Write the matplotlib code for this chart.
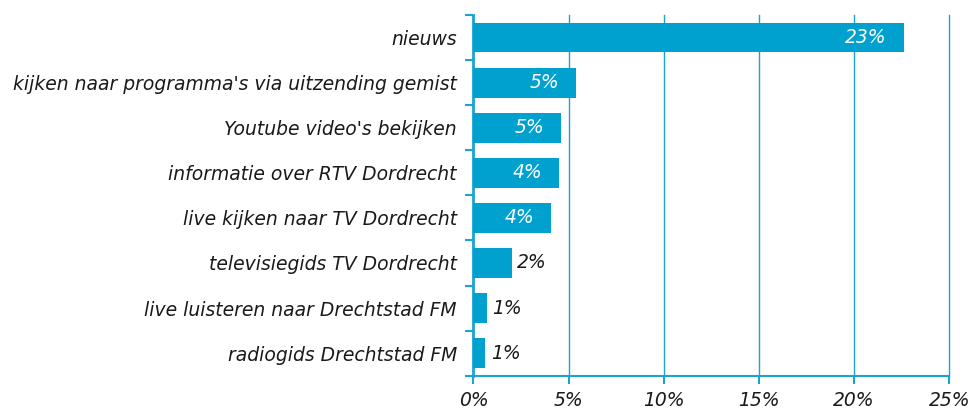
import numpy as np
import matplotlib.pyplot as plt
from matplotlib.ticker import FixedLocator

categories = [
    "nieuws",
    "kijken naar programma's via uitzending gemist",
    "Youtube video's bekijken",
    "informatie over RTV Dordrecht",
    "live kijken naar TV Dordrecht",
    "televisiegids TV Dordrecht",
    "live luisteren naar Drechtstad FM",
    "radiogids Drechtstad FM",
]
values = [22.6, 5.4, 4.6, 4.5, 4.1, 2.0, 0.7, 0.6]
labels = ["23%", "5%", "5%", "4%", "4%", "2%", "1%", "1%"]
xticks = [0, 5, 10, 15, 20, 25]

bar_color = "#00A1CF"
line_color = "#1AA3D3"
fs = 13.5

fig = plt.figure(figsize=(9.72, 4.09), dpi=100)
ax = fig.add_axes([0.4871, 0.0814, 0.4895, 0.8819])

y = np.arange(len(categories))
ax.barh(y, values, height=0.66, color=bar_color, zorder=3)

ax.set_ylim(len(categories) - 0.5, -0.5)
ax.set_xlim(0, 25)

for yi, v, lab in zip(y, values, labels):
    if v > 3:
        ax.text(v - 0.9, yi, lab, ha="right", va="center", color="white",
                fontsize=fs, style="italic", zorder=4)
    else:
        ax.text(v + 0.3, yi, lab, ha="left", va="center", color="#1a1a1a",
                fontsize=fs, style="italic", zorder=4)

ax.set_yticks(y)
ax.set_yticklabels(categories, fontsize=fs, style="italic", color="#1a1a1a")
ax.yaxis.set_minor_locator(FixedLocator(np.arange(-0.5, len(categories), 1)))
ax.tick_params(axis="y", which="major", length=0, pad=12)
ax.tick_params(axis="y", which="minor", length=6, width=1.5, color=line_color)

ax.set_xticks(xticks)
ax.set_xticklabels([f"{t}%" for t in xticks], fontsize=fs, style="italic",
                   color="#1a1a1a")
ax.tick_params(axis="x", length=6, width=1.5, color=line_color, pad=5)

# vertical grid lines, including the one at 25% on the right edge
for t in xticks[1:]:
    ax.axvline(t, color=line_color, linewidth=1, zorder=0, clip_on=False)

for s in ["top", "right"]:
    ax.spines[s].set_visible(False)
ax.spines["left"].set_color(line_color)
ax.spines["left"].set_linewidth(2)
ax.spines["bottom"].set_color(line_color)
ax.spines["bottom"].set_linewidth(1.5)

fig.savefig("out.png", dpi=100)
